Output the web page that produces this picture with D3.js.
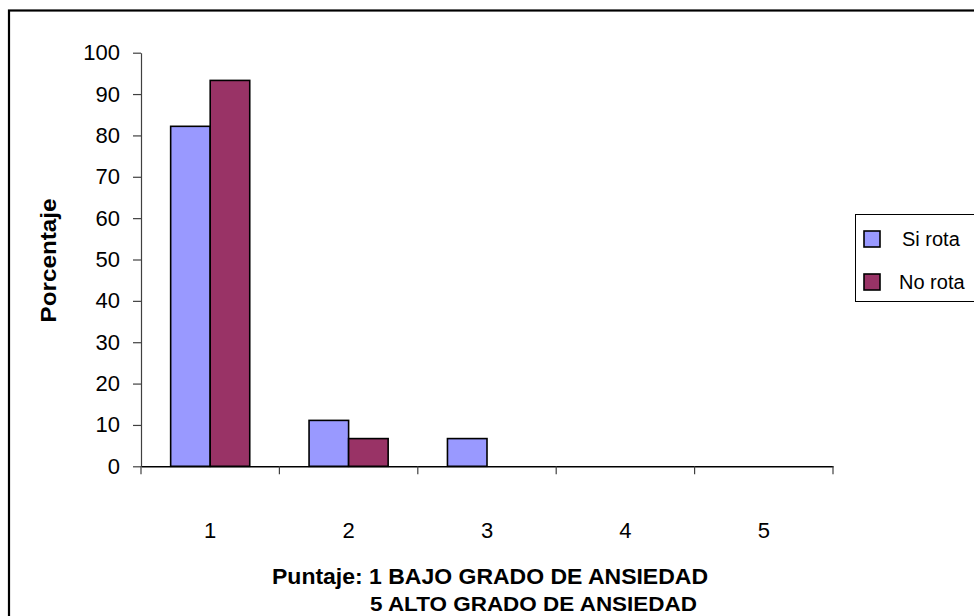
<!DOCTYPE html>
<html>
<head>
<meta charset="utf-8">
<script src="https://cdn.jsdelivr.net/npm/d3@7"></script>
<style>
  html, body { margin: 0; padding: 0; background: #fff; }
  svg { display: block; font-family: "Liberation Sans", Arial, sans-serif; }
</style>
</head>
<body>
<svg id="chart" width="974" height="616"></svg>
<script>
const categories = ["1", "2", "3", "4", "5"];
const seriesNames = ["Si rota", "No rota"];
const siRota = [82.2, 11.1, 6.7, 0, 0];
const noRota = [93.3, 6.7, 0, 0, 0];
const yTicks = [0, 10, 20, 30, 40, 50, 60, 70, 80, 90, 100];
const colors = ["#9999FF", "#993366"];
const yTitle = "Porcentaje";
const xTitle1 = "Puntaje: 1 BAJO GRADO DE ANSIEDAD";
const xTitle2 = "5 ALTO GRADO DE ANSIEDAD";

const svg = d3.select("#chart");
const FONT = "Liberation Sans, Arial, sans-serif";

// outer frame (extends past right/bottom)
svg.append("rect").attr("x", 9).attr("y", 10.5).attr("width", 1100).attr("height", 700)
  .attr("fill", "none").attr("stroke", "#000").attr("stroke-width", 2.2);

const plotL = 141, plotR = 833, plotT = 52.7, plotB = 466.3;

const x = d3.scaleBand().domain(categories).range([plotL, plotR]).padding(0);
const bw = x.bandwidth();
const xs = d3.scaleBand().domain(seriesNames)
  .range([bw * 0.75 / 3.5, bw * 2.75 / 3.5]).padding(0);
const y = d3.scaleLinear().domain([0, 100]).range([plotB, plotT]);

const data = categories.map((c, i) => ({ cat: c, vals: [siRota[i], noRota[i]] }));

// bars
const groups = svg.append("g").selectAll("g").data(data).join("g")
  .attr("transform", d => `translate(${x(d.cat)},0)`);
groups.selectAll("rect")
  .data(d => d.vals.map((v, j) => ({ v, s: seriesNames[j], j })).filter(e => e.v > 0))
  .join("rect")
  .attr("x", e => xs(e.s))
  .attr("y", e => y(e.v))
  .attr("width", xs.bandwidth())
  .attr("height", e => y(0) - y(e.v))
  .attr("fill", e => colors[e.j])
  .attr("stroke", "#000")
  .attr("stroke-width", 1.6);

// y axis
const yAxis = svg.append("g").attr("transform", `translate(${plotL},0)`)
  .call(d3.axisLeft(y).tickValues(yTicks).tickSize(8).tickPadding(13).tickSizeOuter(0));
yAxis.select(".domain").attr("stroke", "#404040").attr("stroke-width", 1.2);
yAxis.selectAll(".tick line").attr("stroke", "#404040").attr("stroke-width", 1.2);
yAxis.selectAll("text").attr("font-size", 22).attr("fill", "#000")
  .attr("font-family", FONT);

// x axis
const xAxis = svg.append("g").attr("transform", `translate(0,${plotB})`)
  .call(d3.axisBottom(x).tickSize(0).tickPadding(56));
xAxis.select(".domain").attr("stroke", "#000").attr("stroke-width", 1.4);
xAxis.selectAll("text").attr("font-size", 22).attr("fill", "#000")
  .attr("font-family", FONT);
// category boundary ticks
const bounds = categories.map(c => x(c)).concat([x(categories[categories.length - 1]) + bw]);
svg.append("g").selectAll("line").data(bounds).join("line")
  .attr("x1", d => d).attr("x2", d => d)
  .attr("y1", plotB).attr("y2", plotB + 8)
  .attr("stroke", "#404040").attr("stroke-width", 1.2);

// y title
svg.append("text")
  .attr("transform", `translate(56,${(plotT + plotB) / 2 + 1}) rotate(-90)`)
  .attr("text-anchor", "middle")
  .attr("font-size", 22).attr("font-weight", "bold")
  .attr("textLength", 124).attr("lengthAdjust", "spacingAndGlyphs")
  .text(yTitle);

// x title
svg.append("text").attr("x", 490).attr("y", 584)
  .attr("text-anchor", "middle").attr("font-size", 22).attr("font-weight", "bold")
  .attr("textLength", 436).attr("lengthAdjust", "spacingAndGlyphs")
  .text(xTitle1);
svg.append("text").attr("x", 533.5).attr("y", 611)
  .attr("text-anchor", "middle").attr("font-size", 21).attr("font-weight", "bold")
  .attr("textLength", 327).attr("lengthAdjust", "spacingAndGlyphs")
  .text(xTitle2);

// legend
svg.append("rect").attr("x", 855.5).attr("y", 214.5).attr("width", 200).attr("height", 87)
  .attr("fill", "#fff").attr("stroke", "#000").attr("stroke-width", 1);
const leg = svg.append("g").selectAll("g").data(seriesNames).join("g")
  .attr("transform", (d, i) => `translate(864,${231 + i * 43})`);
leg.append("rect").attr("width", 16).attr("height", 16)
  .attr("fill", (d, i) => colors[i]).attr("stroke", "#000").attr("stroke-width", 1.6);
leg.append("text").attr("x", (d, i) => i === 0 ? 38 : 35).attr("y", 15)
  .attr("font-size", 20).text(d => d);
</script>
</body>
</html>
